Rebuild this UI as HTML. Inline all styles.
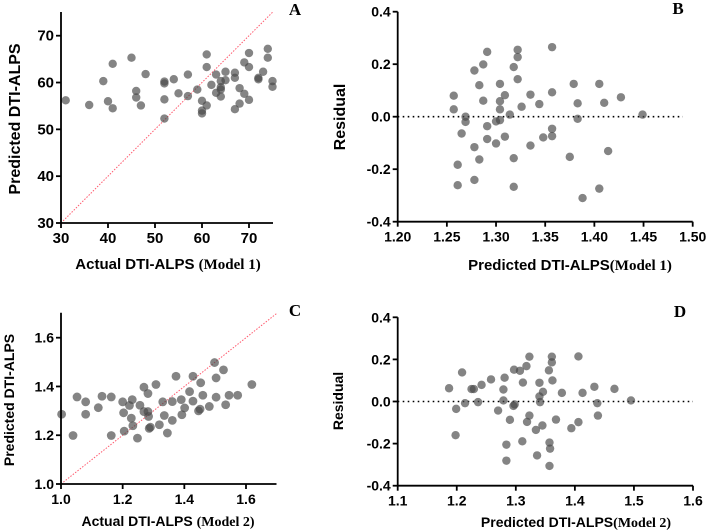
<!DOCTYPE html>
<html><head><meta charset="utf-8"><style>
body{margin:0;background:#fff;width:709px;height:530px;overflow:hidden}
svg{display:block}
text{font-family:"Liberation Sans",Arial,sans-serif;font-weight:bold;fill:#000}
.serif{font-family:"Liberation Serif",serif}
</style></head><body>
<svg id="chart" width="709" height="530"></svg>
<script>
const aX=[31,36,39,40,41,41,45,46,46,47,48,52,52,52,52,54,55,57,57,59,60,60,60,61,61,61,62,63,63,64,64,64,64,65,65,67,67,67,68,68,69,69,70,70,70,72,72,73,74,74,75,75];
const aY=[56.2,55.2,60.3,56,64,54.5,65.3,58.2,56.8,55.1,61.8,60.2,59.8,56.4,52.3,60.7,57.7,61.7,57.1,58.5,56.1,54,53.4,66,63.3,55.1,59.5,61.7,57.8,60.3,59,58.5,57,62.3,60.5,62.1,61,54.3,58.8,55.5,64.3,57.6,66.3,63.3,56.3,61,60.7,62.3,67.2,65.3,60.3,59.1];
const bX=[1.257,1.257,1.261,1.261,1.265,1.269,1.269,1.278,1.278,1.278,1.283,1.283,1.287,1.287,1.291,1.291,1.291,1.300,1.300,1.304,1.304,1.304,1.304,1.309,1.309,1.314,1.318,1.318,1.318,1.322,1.322,1.322,1.326,1.335,1.335,1.344,1.348,1.357,1.357,1.357,1.357,1.375,1.379,1.383,1.383,1.388,1.405,1.405,1.410,1.414,1.427,1.449];
const bY=[0.080,0.028,-0.183,-0.261,-0.064,0.0,-0.02,0.176,-0.116,-0.241,0.120,-0.163,0.199,0.061,0.247,-0.036,-0.085,-0.018,-0.102,0.125,0.059,0.028,-0.013,0.082,-0.076,0.008,0.189,-0.158,-0.267,0.255,0.227,0.143,0.038,0.084,-0.110,0.048,-0.079,0.265,0.093,-0.046,-0.074,-0.153,0.125,0.051,-0.008,-0.310,0.125,-0.274,0.053,-0.131,0.074,0.008];
const cX=[1.002,1.039,1.052,1.080,1.080,1.121,1.133,1.163,1.163,1.200,1.203,1.205,1.222,1.228,1.231,1.233,1.248,1.256,1.269,1.269,1.282,1.282,1.284,1.286,1.290,1.308,1.319,1.330,1.335,1.345,1.361,1.361,1.373,1.390,1.392,1.401,1.417,1.428,1.428,1.446,1.451,1.453,1.460,1.481,1.498,1.503,1.503,1.527,1.534,1.545,1.573,1.619];
const cY=[1.286,1.199,1.357,1.337,1.286,1.313,1.360,1.357,1.199,1.337,1.292,1.217,1.322,1.270,1.346,1.239,1.188,1.323,1.397,1.297,1.371,1.297,1.277,1.228,1.233,1.408,1.243,1.337,1.281,1.209,1.261,1.338,1.442,1.346,1.284,1.312,1.379,1.442,1.340,1.300,1.307,1.415,1.364,1.318,1.498,1.435,1.356,1.468,1.325,1.364,1.364,1.408];
const dX=[1.187,1.199,1.198,1.209,1.214,1.225,1.229,1.236,1.242,1.258,1.270,1.279,1.279,1.281,1.284,1.284,1.290,1.296,1.297,1.298,1.307,1.311,1.312,1.318,1.319,1.323,1.323,1.334,1.336,1.340,1.340,1.341,1.345,1.346,1.356,1.357,1.357,1.358,1.361,1.361,1.362,1.368,1.378,1.394,1.406,1.406,1.413,1.433,1.438,1.439,1.467,1.495];
const dY=[0.063,-0.035,-0.160,0.138,-0.008,0.059,0.059,-0.003,0.079,0.105,-0.043,0.057,0.005,0.113,-0.205,-0.281,-0.087,-0.021,0.151,-0.014,0.146,-0.189,0.090,0.168,-0.097,0.213,-0.067,-0.135,-0.256,0.089,0.024,-0.003,-0.114,0.046,0.148,-0.195,-0.306,-0.224,0.213,0.186,0.100,-0.086,0.041,-0.127,-0.098,0.214,0.041,0.070,-0.008,-0.067,0.060,0.005];
const aXT=[30,40,50,60,70],aYT=[30,40,50,60,70];
const bXT=["1.20","1.25","1.30","1.35","1.40","1.45","1.50"],bYT=["-0.4","-0.2","0.0","0.2","0.4"];
const cXT=["1.0","1.2","1.4","1.6"],cYT=["1.0","1.2","1.4","1.6"];
const dXT=["1.1","1.2","1.3","1.4","1.5","1.6"],dYT=["-0.4","-0.2","0.0","0.2","0.4"];

const svg=document.getElementById('chart');
const NS='http://www.w3.org/2000/svg';
function el(tag,attrs,parent){const e=document.createElementNS(NS,tag);for(const k in attrs)e.setAttribute(k,attrs[k]);(parent||svg).appendChild(e);return e;}

function panel(o){
  const g=el('g',{});
  
  
  const sx=v=>o.px0+(v-o.x0)/(o.x1-o.x0)*(o.px1-o.px0);
  const sy=v=>o.py0-(v-o.y0)/(o.y1-o.y0)*(o.py0-o.py1);
  if(o.diag){const l=el('line',{x1:sx(o.diag[0]),y1:sy(o.diag[0]),x2:sx(o.diag[1]),y2:sy(o.diag[1]),stroke:'#ff5a6e','stroke-width':1,'stroke-dasharray':'1.5,1.5'},g);
    }
  if(o.zero){const l=el('line',{x1:o.px0,y1:sy(0),x2:sx(o.zero),y2:sy(0),stroke:'#000','stroke-width':1.6,'stroke-dasharray':'1.6,3.4'},g);
    }
  for(let i=0;i<o.xs.length;i++){
    const c=el('circle',{cx:sx(o.xs[i]),cy:sy(o.ys[i]),r:o.r||4.2,fill:'#4a4a4a','fill-opacity':0.68},g);
    
    
  }
  const ax=el('path',{d:`M${o.px0},${o.pyTop} V${o.py0} H${o.pxEnd}`,stroke:'#000','stroke-width':1.8,fill:'none'},g);
  
  o.xt.forEach(t=>{const x=sx(+t);el('line',{x1:x,y1:o.py0,x2:x,y2:o.py0+5,stroke:'#000','stroke-width':1.8},g);
    const tx=el('text',{x:x,y:o.py0+20,'text-anchor':'middle','font-size':o.fs},g);tx.textContent=t;
    });
  o.yt.forEach(t=>{const y=sy(+t);el('line',{x1:o.px0-5,y1:y,x2:o.px0,y2:y,stroke:'#000','stroke-width':1.8},g);
    const tx=el('text',{x:o.px0-7,y:y+5,'text-anchor':'end','font-size':o.fs},g);tx.textContent=t;
    });
  const yl=el('text',{x:0,y:0,'text-anchor':'middle','font-size':o.yfs,transform:`translate(${o.ylx},${o.yly}) rotate(-90)`},g);
  yl.textContent=o.ylabel;
  const xl=el('text',{x:o.xlx,y:o.xly,'text-anchor':'middle','font-size':o.xfs},g);
  
  xl.textContent=o.xlabel;
  const m=el('tspan',{'font-size':o.xfs,'class':'serif'},xl);m.textContent='(Model '+o.model+')';
  const L=el('text',{x:o.lx,y:o.ly,'font-size':17,'class':'serif','text-anchor':'middle'},g);L.textContent=o.letter;
  
}
panel({name:'panel-a',xs:aX,ys:aY,xt:aXT,yt:aYT,x0:30,x1:70,px0:61,px1:249,y0:30,y1:70,py0:223,py1:35.7,pyTop:12,pxEnd:273,
  diag:[30,75],fs:15,yfs:16,ylx:20,yly:119,ylabel:'Predicted DTI-ALPS',xfs:15,xlx:168,xly:269,xlabel:'Actual DTI-ALPS ',model:1,letter:'A',lx:295,ly:15});
panel({name:'panel-b',xs:bX,ys:bY,xt:bXT,yt:bYT,x0:1.2,x1:1.5,px0:397.7,px1:692.7,y0:-0.4,y1:0.4,py0:221.7,py1:11.7,pyTop:11.7,pxEnd:692.7,
  zero:1.49,fs:14,yfs:16,ylx:345,yly:117,ylabel:'Residual',xfs:15,xlx:570,xly:270,xlabel:'Predicted DTI-ALPS',model:1,letter:'B',lx:678,ly:14});
panel({name:'panel-c',xs:cX,ys:cY,xt:cXT,yt:cYT,x0:1.0,x1:1.6,px0:61,px1:246,y0:1.0,y1:1.6,py0:484,py1:337.7,pyTop:312.7,pxEnd:276.5,
  diag:[1.0,1.7],r:4.4,fs:14,yfs:14,ylx:14,yly:400,ylabel:'Predicted DTI-ALPS',xfs:14,xlx:168,xly:526,xlabel:'Actual  DTI-ALPS ',model:2,letter:'C',lx:295,ly:316});
panel({name:'panel-d',xs:dX,ys:dY,xt:dXT,yt:dYT,x0:1.1,x1:1.6,px0:397.7,px1:693,y0:-0.4,y1:0.4,py0:485.7,py1:317.3,pyTop:317.3,pxEnd:693,
  zero:1.6,r:4.2,fs:14,yfs:14,ylx:343,yly:401,ylabel:'Residual',xfs:14,xlx:576,xly:527,xlabel:'Predicted DTI-ALPS',model:2,letter:'D',lx:680,ly:317});
</script>
</body></html>
